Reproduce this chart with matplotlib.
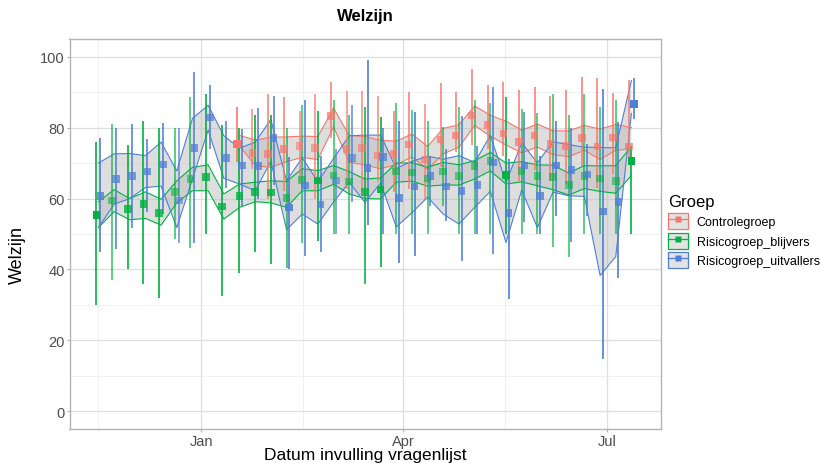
import matplotlib
matplotlib.use("Agg")
import matplotlib.pyplot as plt
import matplotlib.dates as mdates
import numpy as np
from matplotlib.colors import to_rgba
from matplotlib.patches import Patch
from matplotlib.lines import Line2D

plt.rcParams['font.family'] = ['Liberation Sans', 'DejaVu Sans']

# ---------------- data ----------------
dates = ["2020-11-16", "2020-11-23", "2020-11-30", "2020-12-07", "2020-12-14",
         "2020-12-21", "2020-12-28", "2021-01-04", "2021-01-11", "2021-01-18",
         "2021-01-25", "2021-02-01", "2021-02-08", "2021-02-15", "2021-02-22",
         "2021-03-01", "2021-03-08", "2021-03-15", "2021-03-22", "2021-03-29",
         "2021-04-05", "2021-04-12", "2021-04-19", "2021-04-26", "2021-05-03",
         "2021-05-10", "2021-05-17", "2021-05-24", "2021-05-31", "2021-06-07",
         "2021-06-14", "2021-06-21", "2021-06-28", "2021-07-05", "2021-07-12"]

groups = ["Controlegroep", "Risicogroep_blijvers", "Risicogroep_uitvallers"]

# Controlegroep (starts at 2021-01-18)
ctrl_start = 9
ctrl_mean = [75.4, 72.8, 72.5, 74.0, 74.8, 74.3, 83.3, 73.9, 74.2, 72.1, 72.6, 75.2, 71.0,
             76.6, 77.8, 83.4, 80.8, 78.3, 75.9, 77.8, 75.4, 74.9, 77.0, 74.7, 77.2, 74.7]
ctrl_lo = [70.2, 68.4, 60.0, 62.0, 64.6, 60.0, 77.0, 62.7, 61.8, 64.6, 61.8, 62.7, 60.0,
           68.8, 73.0, 75.0, 74.0, 72.0, 65.0, 68.0, 65.0, 64.0, 69.3, 63.0, 67.0, 70.2]
ctrl_hi = [85.8, 85.3, 89.5, 88.6, 84.8, 89.5, 92.8, 90.2, 90.2, 89.0, 84.8, 90.0, 86.7,
           92.5, 90.0, 96.4, 91.9, 92.8, 90.5, 91.4, 88.9, 90.5, 94.2, 93.9, 89.8, 93.3]
ctrl_rlo = [74.9, 69.3, 68.8, 70.4, 71.6, 71.0, 80.2, 70.2, 69.5, 68.4, 69.6, 71.7, 68.2,
            72.6, 74.5, 80.6, 77.6, 75.1, 72.9, 74.5, 72.4, 71.8, 73.6, 71.0, 73.6, 74.0]
ctrl_rhi = [77.8, 76.5, 77.3, 77.4, 77.6, 77.5, 85.5, 77.8, 77.5, 76.4, 76.2, 78.2, 74.7,
            79.8, 80.8, 86.1, 83.5, 81.8, 79.3, 81.0, 79.1, 79.1, 80.6, 79.6, 80.9, 80.0]
ctrl_alpha = [1.0, 0.6, 0.7, 0.7, 0.6, 0.6, 0.7, 0.6, 0.6, 0.6, 0.7, 0.7, 0.6,
              0.7, 0.7, 0.7, 0.7, 0.7, 0.7, 0.7, 0.7, 0.7, 0.7, 0.7, 0.7, 0.7]

# Risicogroep_blijvers
blij_mean = [55.3, 59.4, 57.0, 58.4, 55.9, 61.8, 65.5, 66.0, 57.8, 60.8, 61.9, 61.7, 60.2,
             65.3, 65.1, 66.5, 64.8, 61.9, 62.5, 67.6, 67.4, 65.7, 67.6, 66.4, 69.1, 70.6,
             66.6, 67.8, 66.4, 66.0, 63.8, 66.3, 65.7, 65.0, 70.6]
blij_lo = [30.0, 37.0, 40.0, 36.0, 32.0, 48.5, 46.0, 50.0, 32.4, 39.0, 45.0, 41.5, 40.3,
           47.5, 48.1, 50.0, 50.0, 35.9, 40.6, 50.0, 50.0, 50.0, 58.0, 50.0, 50.0, 50.0,
           50.0, 50.0, 50.0, 46.2, 43.4, 50.0, 50.0, 50.0, 50.0]
blij_hi = [76.0, 81.0, 75.0, 82.0, 80.0, 80.0, 88.6, 89.5, 80.8, 80.0, 83.5, 83.6, 80.0,
           86.4, 84.8, 87.7, 83.6, 85.8, 83.0, 87.0, 85.0, 82.0, 80.1, 85.8, 87.9, 87.0,
           88.6, 85.3, 84.1, 89.5, 83.6, 89.5, 85.8, 87.9, 74.6]
blij_rlo = [51.8, 56.3, 54.0, 54.4, 52.5, 58.8, 62.2, 62.2, 54.2, 57.5, 59.1, 58.8, 57.5,
            62.2, 62.2, 64.0, 61.3, 60.0, 59.9, 64.6, 64.9, 63.5, 63.8, 63.8, 65.5, 67.8,
            64.1, 64.7, 63.6, 62.5, 61.0, 62.8, 62.0, 61.5, 66.5]
blij_rhi = [59.1, 62.5, 60.0, 61.9, 59.8, 65.0, 68.8, 69.5, 61.3, 64.1, 64.6, 65.0, 64.8,
            68.4, 67.9, 69.3, 67.6, 65.5, 65.8, 70.0, 70.1, 68.8, 70.2, 69.5, 70.7, 73.0,
            70.0, 70.4, 69.5, 69.4, 67.2, 69.3, 69.2, 69.3, 74.7]
blij_alpha = [1.0, 0.55, 0.8, 0.8, 0.8, 0.55, 0.55, 0.8, 0.8, 0.8, 0.8, 0.8, 0.6,
              0.55, 0.9, 0.55, 0.55, 0.75, 0.9, 0.55, 0.55, 0.55, 0.55, 0.55, 0.55, 0.55,
              0.95, 0.55, 0.55, 0.55, 0.55, 0.55, 0.55, 0.55, 1.0]

# Risicogroep_uitvallers
uitv_mean = [60.8, 65.5, 66.4, 67.6, 69.6, 59.4, 74.2, 82.9, 71.5, 69.3, 69.1, 77.0, 57.5,
             63.7, 58.3, 65.1, 71.4, 68.7, 71.8, 60.1, 63.4, 66.3, 63.4, 62.2, 63.8, 70.2,
             55.9, 69.3, 60.7, 69.3, 68.1, 66.8, 56.3, 59.0, 86.7]
uitv_lo = [45.0, 45.9, 51.8, 56.1, 55.6, 47.5, 47.6, 74.0, 63.1, 58.0, 60.0, 63.7, 40.0,
           43.8, 44.8, 50.0, 58.9, 52.4, 50.0, 41.8, 43.9, 58.0, 53.8, 42.5, 50.0, 44.3,
           31.6, 53.4, 50.0, 55.0, 47.8, 55.1, 14.8, 37.7, 82.4]
uitv_hi = [77.0, 79.8, 80.9, 76.8, 81.3, 79.9, 95.8, 91.9, 82.0, 79.6, 85.6, 88.9, 71.6,
           87.9, 72.1, 74.0, 86.4, 99.0, 79.8, 82.0, 84.4, 72.1, 74.0, 83.4, 74.9, 91.4,
           71.2, 84.3, 72.1, 82.0, 79.8, 75.4, 90.9, 81.5, 94.0]
uitv_rlo = [51.8, 58.4, 60.0, 63.1, 63.5, 51.8, 65.5, 79.3, 65.7, 64.1, 62.2, 70.5, 51.2,
            55.6, 52.8, 59.0, 64.6, 58.9, 64.4, 52.0, 56.0, 60.4, 55.6, 52.8, 57.5, 62.0,
            47.6, 62.4, 51.8, 61.8, 60.8, 60.6, 38.3, 43.6, 84.0]
uitv_rhi = [70.0, 72.6, 72.7, 72.1, 75.9, 67.8, 82.6, 86.3, 77.7, 74.2, 75.9, 82.3, 65.0,
            71.5, 64.8, 71.3, 77.7, 77.9, 77.9, 68.5, 70.5, 71.9, 71.1, 72.1, 70.2, 77.8,
            64.6, 75.7, 70.1, 76.0, 75.2, 74.5, 74.4, 74.3, 93.3]
uitv_alpha = [0.8, 0.75, 0.75, 0.75, 0.75, 0.6, 0.75, 0.75, 0.75, 0.75, 0.75, 0.75, 0.9,
              0.75, 0.75, 0.6, 0.65, 0.8, 0.75, 0.8, 0.8, 0.75, 0.75, 0.75, 0.75, 0.75,
              0.8, 0.75, 0.8, 0.8, 0.75, 0.75, 0.8, 0.8, 1.0]

colors = {"Controlegroep": "#F8766D",
          "Risicogroep_blijvers": "#00B140",
          "Risicogroep_uitvallers": "#4F7FD6"}

# ---------------- figure ----------------
fig = plt.figure(figsize=(8.21, 4.64), dpi=100)
ax = fig.add_axes([69.5 / 821, 1 - 430 / 464, (661 - 69.5) / 821, (430 - 40) / 464])

xd = mdates.datestr2num(dates)
n = len(xd)
has_ctrl = np.arange(n) >= ctrl_start

series = {
    "Controlegroep": (xd[ctrl_start:], ctrl_mean, ctrl_lo, ctrl_hi, ctrl_rlo, ctrl_rhi, ctrl_alpha),
    "Risicogroep_blijvers": (xd, blij_mean, blij_lo, blij_hi, blij_rlo, blij_rhi, blij_alpha),
    "Risicogroep_uitvallers": (xd, uitv_mean, uitv_lo, uitv_hi, uitv_rlo, uitv_rhi, uitv_alpha),
}

# dodge offsets (days)
def dodge(g, x):
    idx = np.searchsorted(xd, x)
    three = has_ctrl[idx]
    if g == "Controlegroep":
        return x - 1.2
    if g == "Risicogroep_blijvers":
        return x + np.where(three, 0.0, -0.9)
    return x + np.where(three, 1.2, 0.9)

all_x = []
for g in groups:
    x, m, lo, hi, rlo, rhi, al = series[g]
    c = colors[g]
    ax.fill_between(x, rlo, rhi, facecolor="#BEBEBE", alpha=0.5, edgecolor="none", zorder=1)
    ax.plot(x, rlo, color=c, lw=0.8, zorder=1.5)
    ax.plot(x, rhi, color=c, lw=0.8, zorder=1.5)

for g in groups:
    x, m, lo, hi, rlo, rhi, al = series[g]
    c = colors[g]
    xx = dodge(g, np.asarray(x))
    all_x.extend(list(xx))
    cols = [to_rgba(c, min(1.0, a + 0.2)) for a in al]
    ax.vlines(xx, lo, hi, colors=cols, lw=1.2, zorder=2)

for g in groups:
    x, m, lo, hi, rlo, rhi, al = series[g]
    c = colors[g]
    xx = dodge(g, np.asarray(x))
    cols = [to_rgba(c, a) for a in al]
    ax.scatter(xx, m, marker="s", s=30, c=cols, edgecolors="none", zorder=3)

xmin, xmax = min(all_x), max(all_x)
rng = xmax - xmin
ax.set_xlim(xmin - 0.05 * rng, xmax + 0.05 * rng)
ax.set_ylim(-5, 105)

ax.set_xticks(mdates.datestr2num(["2021-01-01", "2021-04-01", "2021-07-01"]))
ax.set_xticklabels(["Jan", "Apr", "Jul"])
ax.set_xticks(mdates.datestr2num(["2020-11-16", "2021-02-15 12:00", "2021-05-16 12:00"]), minor=True)
ax.set_yticks([0, 20, 40, 60, 80, 100])
ax.set_yticks([10, 30, 50, 70, 90], minor=True)

ax.grid(which="major", color="#DEDEDE", lw=0.9, zorder=0)
ax.grid(which="minor", color="#EBEBEB", lw=0.5, zorder=0)
ax.set_axisbelow(True)
for s in ax.spines.values():
    s.set_color("#B3B3B3")
    s.set_linewidth(1.0)
ax.tick_params(which="major", color="#B3B3B3", length=2.5, width=0.8,
               labelcolor="#4D4D4D", labelsize=10.5, pad=1)
ax.tick_params(which="minor", length=0)

fig.text(365 / 821, 1 - 456 / 464, "Datum invulling vragenlijst", fontsize=12.5,
         ha="center", va="center")
fig.text(17 / 821, 1 - 255 / 464, "Welzijn", fontsize=13, rotation=90,
         ha="center", va="center")
ax.set_title("Welzijn", fontsize=12, fontweight="bold", pad=14)

handles = []
for g in groups:
    c = colors[g]
    p = Patch(facecolor="#E3E3E3", edgecolor=c, lw=0.9)
    l = Line2D([], [], color=c, lw=0.9, marker="s", markersize=4, markeredgecolor="none")
    handles.append((p, l))
leg = fig.legend(handles, groups, title="Groep", loc="upper left",
                 bbox_to_anchor=(663 / 821, 1 - 190 / 464), frameon=False,
                 fontsize=9, title_fontsize=12, handlelength=1.6, handleheight=1.6,
                 handletextpad=0.7, labelspacing=0.3, borderaxespad=0)
leg._legend_box.align = "left"

fig.savefig("out.png", dpi=100)
